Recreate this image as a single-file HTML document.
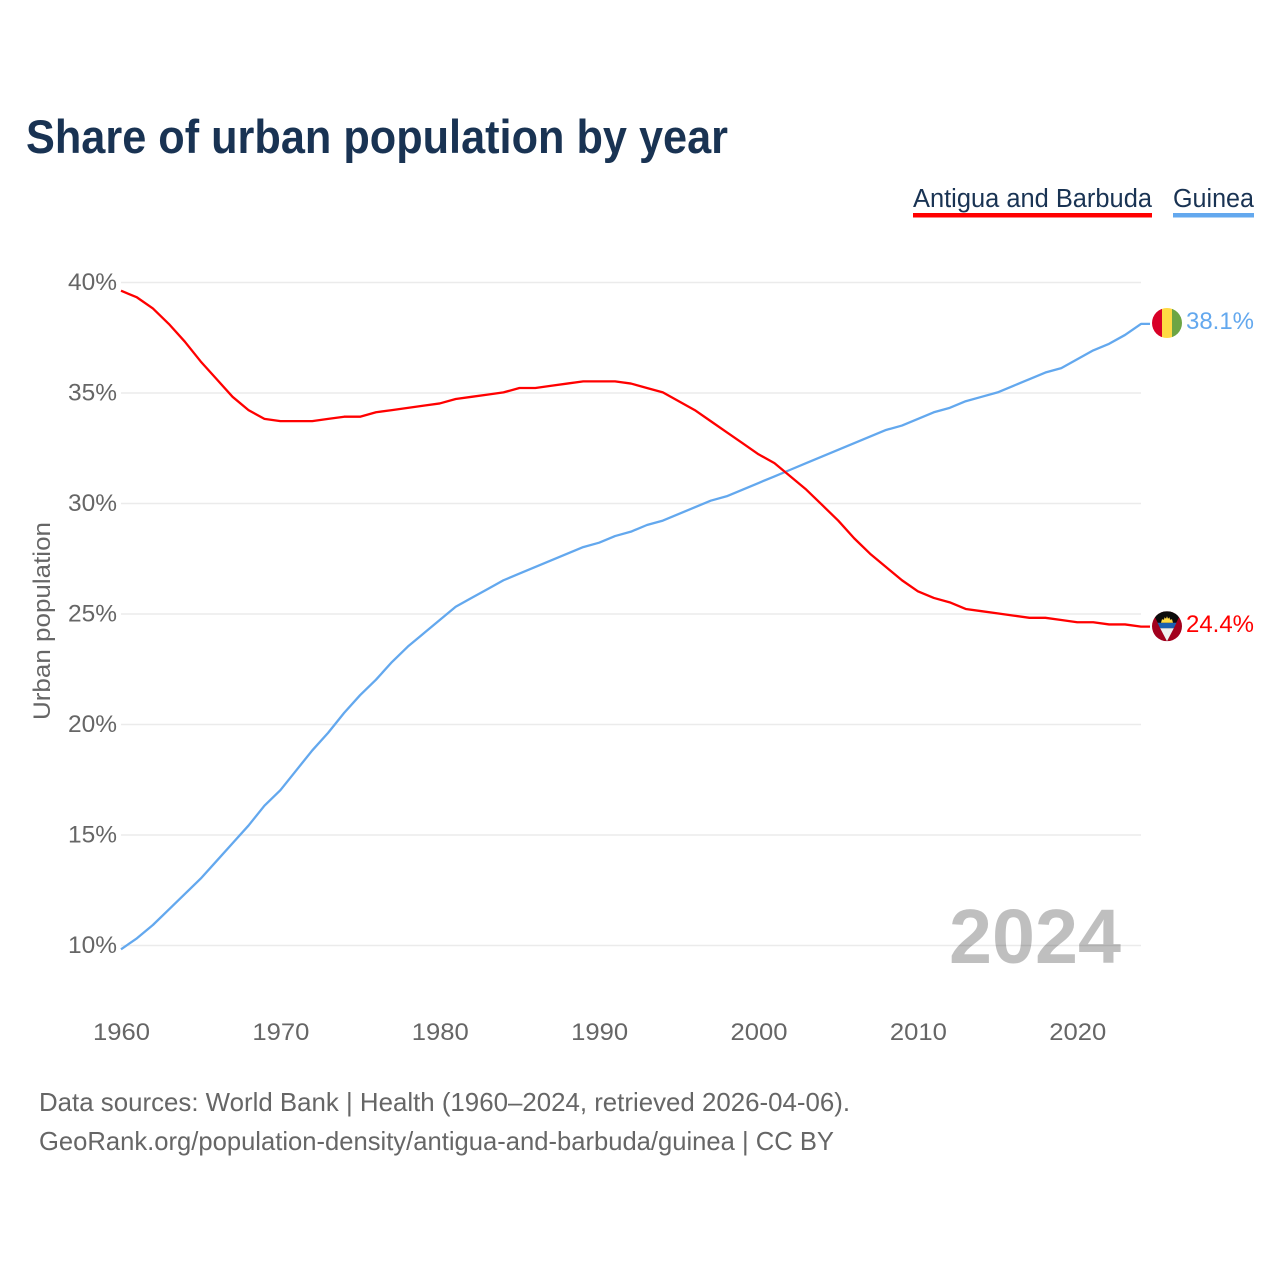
<!DOCTYPE html>
<html lang="en">
<head>
<meta charset="utf-8">
<title>Share of urban population by year</title>
<style>
html,body{margin:0;padding:0;background:#fff;width:1280px;height:1280px;overflow:hidden}
svg{display:block}
text{font-family:"Liberation Sans",sans-serif}
</style>
</head>
<body>
<svg id="chart" width="1280" height="1280" viewBox="0 0 1280 1280" xmlns="http://www.w3.org/2000/svg">
  <defs>
    <clipPath id="flag-clip"><circle cx="0" cy="0" r="15"></circle></clipPath>
  </defs>
  <text x="26" y="153" font-size="47" font-weight="700" fill="#193353" textLength="702" lengthAdjust="spacingAndGlyphs">Share of urban population by year</text>

  <g>
    <text x="913" y="207" font-size="25.5" fill="#193353" textLength="239" lengthAdjust="spacingAndGlyphs">Antigua and Barbuda</text>
    <rect x="913" y="213" width="239" height="4.5" fill="#ff0000"></rect>
  </g>
  <g>
    <text x="1173" y="207" font-size="25.5" fill="#193353" textLength="81" lengthAdjust="spacingAndGlyphs">Guinea</text>
    <rect x="1173" y="213" width="81" height="4.5" fill="#63a8ee"></rect>
  </g>

  <g id="grid"></g>
  <g id="y-ticks"></g>
  <g id="x-ticks"></g>

  <text transform="translate(50,720) rotate(-90)" x="0" y="0" font-size="24.5" fill="#666666" textLength="198" lengthAdjust="spacingAndGlyphs">Urban population</text>

  <text x="949" y="963" font-size="77" font-weight="700" fill="#000000" fill-opacity="0.25" textLength="172" lengthAdjust="spacingAndGlyphs">2024</text>

  <g id="series"></g>

  <g id="flag-guinea">
    <g clip-path="url(#flag-clip)">
      <rect x="-15" y="-15" width="10" height="30" fill="#d80027"></rect>
      <rect x="-5" y="-15" width="10" height="30" fill="#ffda44"></rect>
      <rect x="5" y="-15" width="10" height="30" fill="#6da544"></rect>
    </g>
  </g>
  <g id="flag-antigua">
    <g clip-path="url(#flag-clip)">
      <rect x="-15" y="-15" width="30" height="30" fill="#a2001d"></rect>
      <polygon points="-15,-15 15,-15 0,15" fill="#0c0c0c"></polygon>
      <polygon points="-9.5,-3.5 9.5,-3.5 6.8,2 -6.8,2" fill="#1b5fb0"></polygon>
      <polygon points="-6.8,2 6.8,2 0,15" fill="#f0f0f0"></polygon>
      <polygon points="-6,-3.5 6,-3.5 5,-7 3,-6.5 2.5,-9 1,-7.5 0,-10 -1,-7.5 -2.5,-9 -3,-6.5 -5,-7" fill="#ffda44"></polygon>
    </g>
  </g>

  <g id="end-labels"></g>

  <text x="39" y="1111" font-size="26" fill="#666666" textLength="811" lengthAdjust="spacingAndGlyphs">Data sources: World Bank | Health (1960–2024, retrieved 2026-04-06).</text>
  <text x="39" y="1150" font-size="26" fill="#666666" textLength="795" lengthAdjust="spacingAndGlyphs">GeoRank.org/population-density/antigua-and-barbuda/guinea | CC BY</text>
</svg>
<script>
const firstYear = 1960;
const antiguaValues = [39.6,39.3,38.8,38.1,37.3,36.4,35.6,34.8,34.2,33.8,33.7,33.7,33.7,33.8,33.9,33.9,34.1,34.2,34.3,34.4,34.5,34.7,34.8,34.9,35.0,35.2,35.2,35.3,35.4,35.5,35.5,35.5,35.4,35.2,35.0,34.6,34.2,33.7,33.2,32.7,32.2,31.8,31.2,30.6,29.9,29.2,28.4,27.7,27.1,26.5,26.0,25.7,25.5,25.2,25.1,25.0,24.9,24.8,24.8,24.7,24.6,24.6,24.5,24.5,24.4];
const guineaValues = [9.8,10.3,10.9,11.6,12.3,13.0,13.8,14.6,15.4,16.3,17.0,17.9,18.8,19.6,20.5,21.3,22.0,22.8,23.5,24.1,24.7,25.3,25.7,26.1,26.5,26.8,27.1,27.4,27.7,28.0,28.2,28.5,28.7,29.0,29.2,29.5,29.8,30.1,30.3,30.6,30.9,31.2,31.5,31.8,32.1,32.4,32.7,33.0,33.3,33.5,33.8,34.1,34.3,34.6,34.8,35.0,35.3,35.6,35.9,36.1,36.5,36.9,37.2,37.6,38.1];
const yTickValues = [10,15,20,25,30,35,40];
const xTickValues = [1960,1970,1980,1990,2000,2010,2020];

const NS = 'http://www.w3.org/2000/svg';
const xOf = function (year) { return 121 + (year - 1960) * (1141 - 121) / 64; };
const yOf = function (v) { return 945.5 - (v - 10) * (945.5 - 282.5) / 30; };
const make = function (tag, parent, attrs, text) {
  const el = document.createElementNS(NS, tag);
  for (const k in attrs) el.setAttribute(k, attrs[k]);
  if (text !== undefined) el.textContent = text;
  parent.appendChild(el);
  return el;
};

const grid = document.getElementById('grid');
const yTicks = document.getElementById('y-ticks');
yTickValues.forEach(function (v) {
  const line = make('line', grid, {x1: 121, x2: 1141, y1: yOf(v), y2: yOf(v), stroke: '#ebebeb', 'stroke-width': 1.5});
  
  
  const label = make('text', yTicks, {x: 68, y: yOf(v) + 7.5, 'font-size': 24.5, fill: '#666666', textLength: 49, lengthAdjust: 'spacingAndGlyphs'}, v + '%');
  
  
});

const xTicks = document.getElementById('x-ticks');
xTickValues.forEach(function (y) {
  const label = make('text', xTicks, {x: xOf(y) - 28, y: 1040, 'font-size': 24.5, fill: '#666666', textLength: 57, lengthAdjust: 'spacingAndGlyphs'}, String(y));
  
  
});

const seriesGroup = document.getElementById('series');
const drawSeries = function (values, color, name) {
  const pts = values.map(function (v, i) { return xOf(firstYear + i).toFixed(2) + ',' + (yOf(v) - 0.6).toFixed(2); });
  const lastY = yOf(values[values.length - 1]) - 0.6;
  pts.push('1150,' + lastY.toFixed(2));
  const line = make('polyline', seriesGroup, {points: pts.join(' '), fill: 'none', stroke: color, 'stroke-width': 2.3, 'stroke-linejoin': 'round'});
  
  
};
drawSeries(guineaValues, '#63a8ee', 'guinea-line');
drawSeries(antiguaValues, '#ff0000', 'antigua-and-barbuda-line');

const guineaLast = guineaValues[guineaValues.length - 1];
const antiguaLast = antiguaValues[antiguaValues.length - 1];
document.getElementById('flag-guinea').setAttribute('transform', 'translate(1167,' + (yOf(guineaLast) - 1.5) + ')');
document.getElementById('flag-antigua').setAttribute('transform', 'translate(1167,' + (yOf(antiguaLast) - 1) + ')');

const endLabels = document.getElementById('end-labels');
const guineaEnd = make('text', endLabels, {x: 1186, y: yOf(guineaLast) + 4.5, 'font-size': 24.5, fill: '#63a8ee', textLength: 68, lengthAdjust: 'spacingAndGlyphs'}, guineaLast.toFixed(1) + '%');


const antiguaEnd = make('text', endLabels, {x: 1186, y: yOf(antiguaLast) + 4.5, 'font-size': 24.5, fill: '#ff0000', textLength: 68, lengthAdjust: 'spacingAndGlyphs'}, antiguaLast.toFixed(1) + '%');


</script>
</body>
</html>
